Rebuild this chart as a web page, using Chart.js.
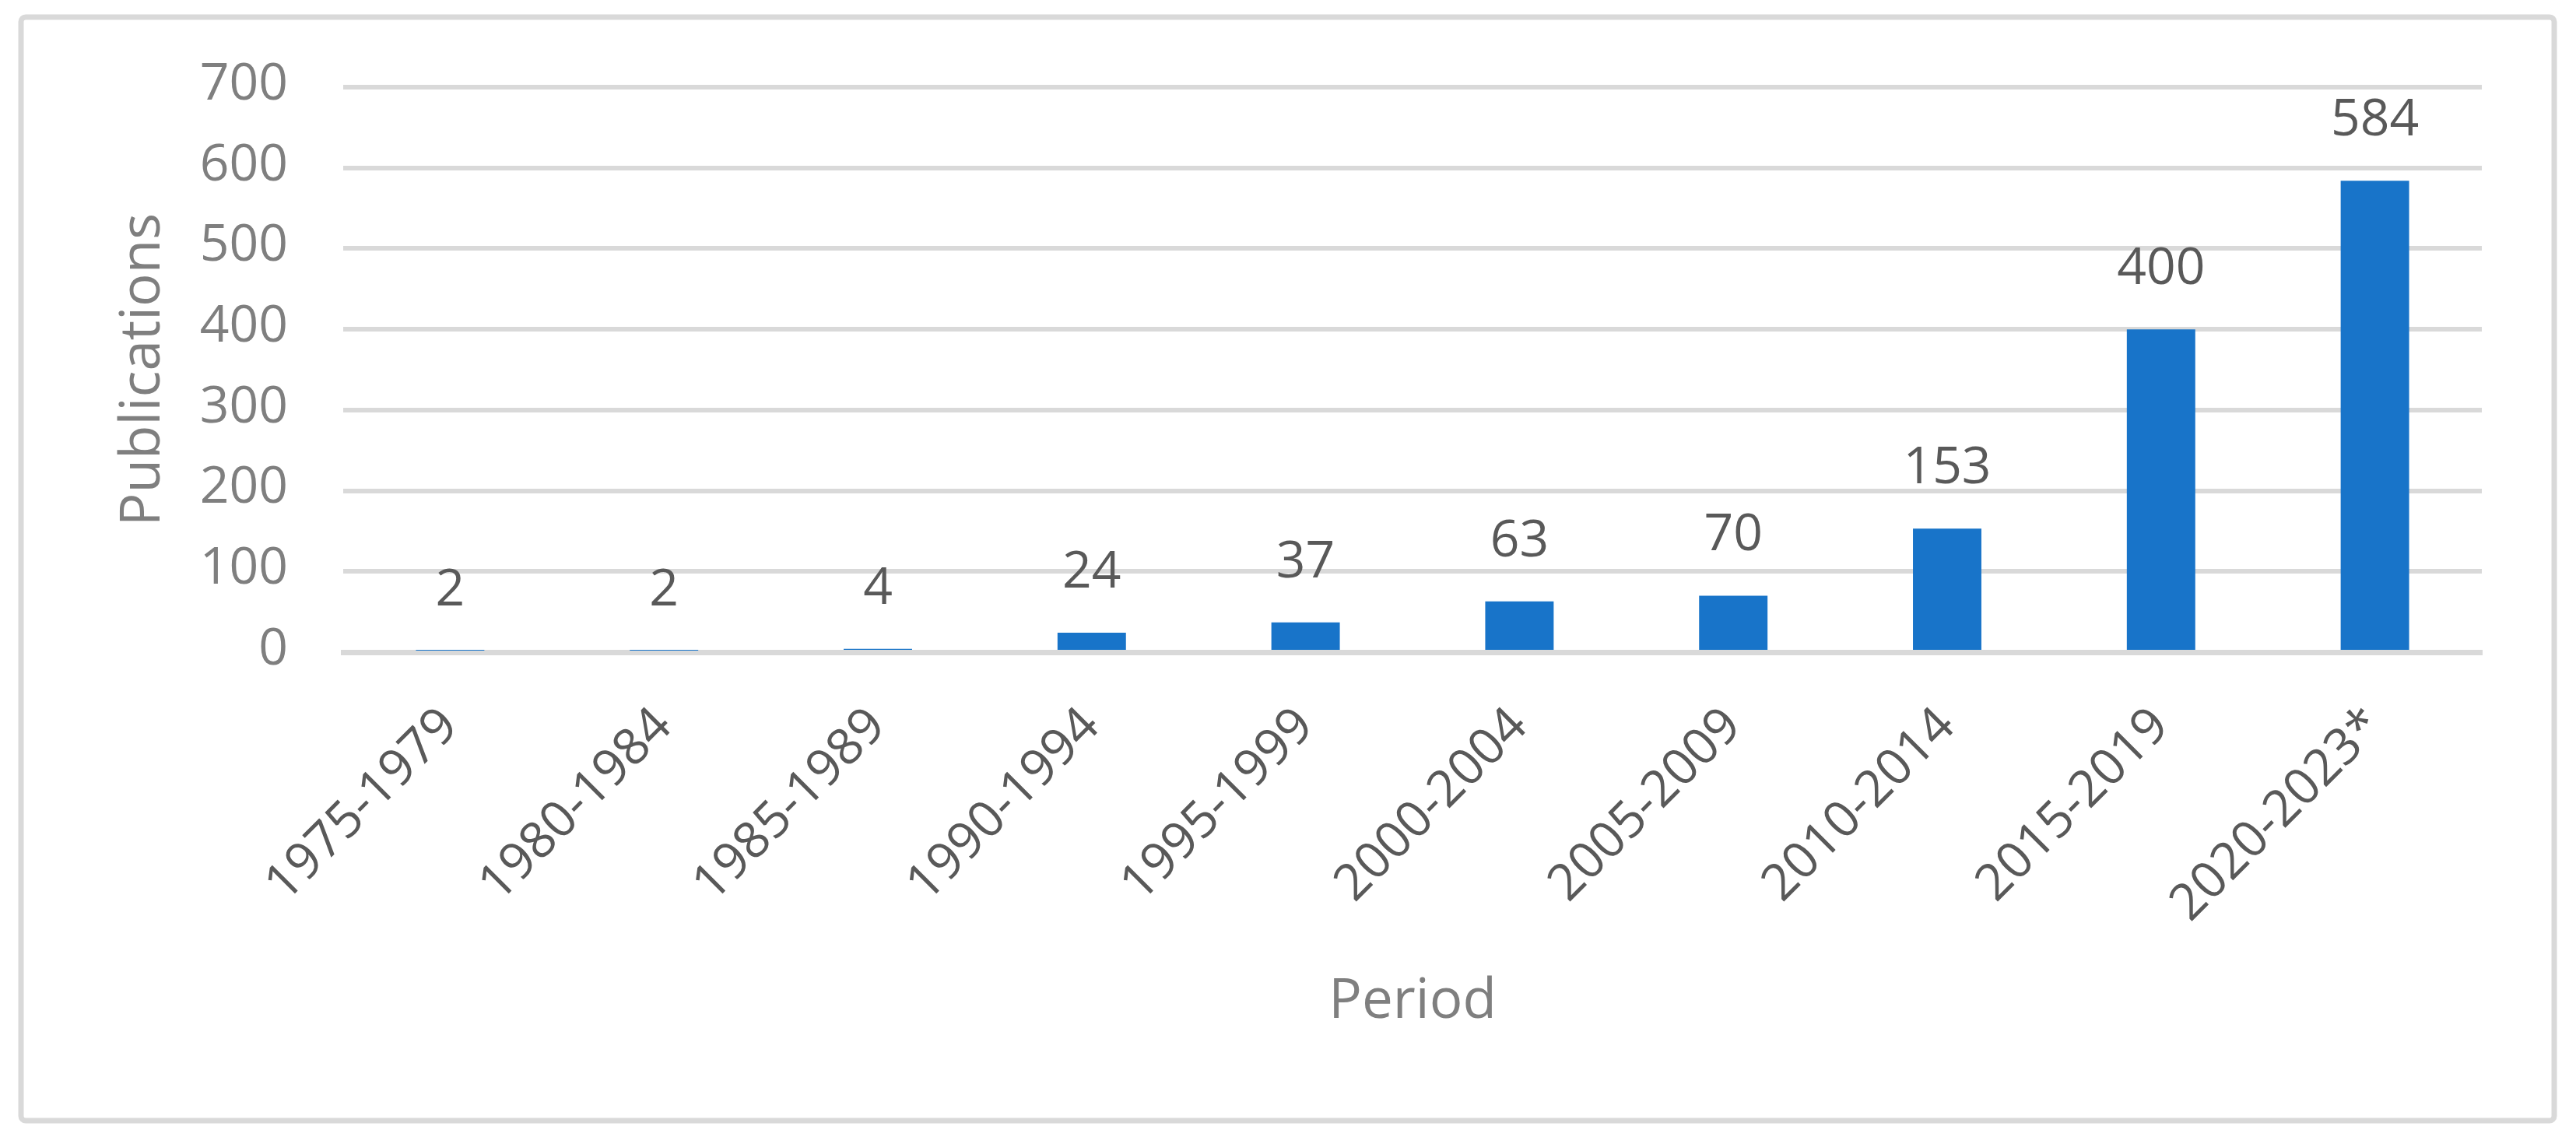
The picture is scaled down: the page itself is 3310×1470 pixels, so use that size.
<!DOCTYPE html>
<html>
<head>
<meta charset="utf-8">
<title>Publications per period</title>
<script src="https://cdn.jsdelivr.net/npm/chart.js@4.4.1/dist/chart.umd.min.js"></script>
<style>
  html, body { margin: 0; padding: 0; background: #ffffff; }
  #wrap { position: relative; width: 3310px; height: 1470px; }
</style>
</head>
<body>
<div id="wrap"><canvas id="pubChart"></canvas></div>
<script>
// Data
const periods = ['1975-1979', '1980-1984', '1985-1989', '1990-1994', '1995-1999',
                 '2000-2004', '2005-2009', '2010-2014', '2015-2019', '2020-2023*'];
const publications = [2, 2, 4, 24, 37, 63, 70, 153, 400, 584];
const yMin = 0;
const yMax = 700;
const yStep = 100;

const FONT = "'Open Sans', 'Noto Sans', sans-serif";

// Light grey frame round the whole chart
const framePlugin = {
  id: 'frame',
  beforeDraw(chart) {
    const c = chart.ctx;
    c.save();
    c.fillStyle = '#ffffff';
    c.fillRect(0, 0, chart.width, chart.height);
    c.strokeStyle = '#d9d9d9';
    c.lineWidth = 7;
    c.beginPath();
    c.roundRect(27, 22, 3255, 1418, 6);
    c.stroke();
    c.restore();
  }
};

// Value labels above each bar
const valueLabels = {
  id: 'valueLabels',
  afterDatasetsDraw(chart) {
    const c = chart.ctx;
    const meta = chart.getDatasetMeta(0);
    c.save();
    c.font = '66px ' + FONT;
    c.fillStyle = '#595959';
    c.textAlign = 'center';
    c.textBaseline = 'alphabetic';
    meta.data.forEach((bar, i) => {
      c.fillText(String(publications[i]), bar.x, bar.y - 58);
    });
    c.restore();
  }
};

new Chart(document.getElementById('pubChart'), {
  type: 'bar',
  data: {
    labels: periods,
    datasets: [{
      label: 'Publications',
      data: publications,
      backgroundColor: '#1874c9',
      borderWidth: 0,
      barPercentage: 0.32,
      categoryPercentage: 1.0
    }]
  },
  plugins: [framePlugin, valueLabels],
  options: {
    responsive: true,
    maintainAspectRatio: false,
    animation: false,
    layout: {
      padding: { left: 40, top: 112, right: 121, bottom: 20 }
    },
    plugins: {
      legend: { display: false },
      tooltip: { enabled: false }
    },
    scales: {
      x: {
        z: 1,
        grid: { display: false, drawTicks: false },
        border: { display: true, color: '#d9d9d9', width: 7 },
        ticks: {
          autoSkip: false,
          maxRotation: 45,
          minRotation: 45,
          padding: 57,
          color: '#595959',
          font: { size: 65, family: FONT }
        },
        title: {
          display: true,
          text: 'Period',
          color: '#7f7f7f',
          font: { size: 71, family: FONT },
          padding: { top: 0, bottom: 120 }
        },
        afterFit(scale) { scale.height = 612; }
      },
      y: {
        min: yMin,
        max: yMax,
        grid: { color: '#d9d9d9', lineWidth: 6, drawTicks: false },
        border: { display: false },
        ticks: {
          stepSize: yStep,
          padding: 71,
          labelOffset: -3,
          color: '#7f7f7f',
          font: { size: 66, family: FONT }
        },
        title: {
          display: true,
          text: 'Publications',
          color: '#7f7f7f',
          font: { size: 71, family: FONT },
          padding: { top: 102, bottom: 0 }
        },
        afterFit(scale) { scale.width = 401; }
      }
    }
  }
});
</script>
</body>
</html>
